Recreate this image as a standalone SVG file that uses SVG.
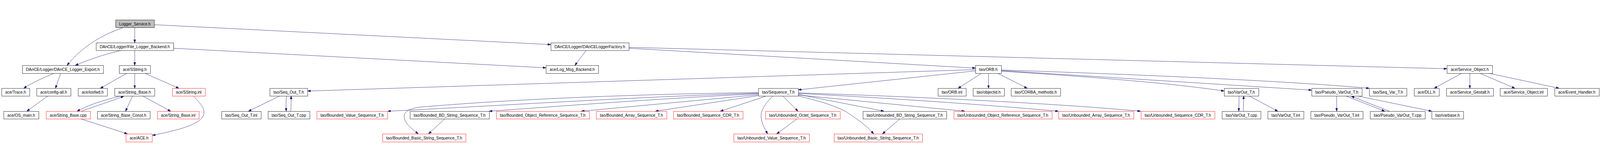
<svg xmlns="http://www.w3.org/2000/svg" width="5249" height="411" viewBox="0 0 5249 411">
<style>
svg{width:100vw;height:100vh;display:block}
rect{stroke-width:1}
.b{fill:#ffffff;stroke:#000000}
.r{fill:#ffffff;stroke:#ff0000}
.g{fill:#bfbfbf;stroke:#000000}
text{font-family:"Liberation Sans",Arial,sans-serif;font-size:15px;fill:#000000;text-anchor:middle}
#edges path{fill:none;stroke:#191970;stroke-width:1;marker-end:url(#a)}
</style>
<defs>
<marker id="a" markerWidth="10" markerHeight="7" refX="10" refY="3.5" orient="auto" markerUnits="userSpaceOnUse">
<path d="M0,0 L10,3.5 L0,7 z" fill="#191970" stroke="#191970" stroke-width="1"/>
</marker>
</defs>
<rect x="0" y="0" width="5249" height="411" fill="#ffffff"/>
<g id="edges">
<path d="M403,33 C330,58 270,95 220,156"/>
<path d="M442,33 L442,82"/>
<path d="M506,23 L1807,88"/>
<path d="M398,107 C340,120 290,138 247,156"/>
<path d="M442,107 L442,156"/>
<path d="M569,100 L1791,164"/>
<path d="M1923,107 C1910,125 1898,140 1886,156"/>
<path d="M2063,100 L3200,165"/>
<path d="M2063,97 L4747,167"/>
<path d="M177,182 C140,198 100,215 78,231"/>
<path d="M199,182 L182,231"/>
<path d="M416,182 L329,231"/>
<path d="M442,182 L442,231"/>
<path d="M475,182 L587,231"/>
<path d="M393,257 C340,270 290,285 253,306"/>
<path d="M267,306 C310,290 360,275 406,257"/>
<path d="M435,256 L412,306"/>
<path d="M468,256 L560,306"/>
<path d="M157,256 L88,306"/>
<path d="M265,331 L418,380"/>
<path d="M636,257 C650,275 672,292 669,313 C666,345 600,365 500,385"/>
<path d="M3200,170 L1009,240"/>
<path d="M3200,174 L2619,236"/>
<path d="M3220,182 L3143,231"/>
<path d="M3243,182 L3243,231"/>
<path d="M3273,182 L3370,231"/>
<path d="M3285,171 C3700,185 4200,205 4492,231"/>
<path d="M3285,173 L4303,237"/>
<path d="M3285,175 C3600,195 3850,215 4016,240"/>
<path d="M2488,255 L2150,306"/>
<path d="M2488,252 L1907,306"/>
<path d="M2488,249 C2200,262 1900,285 1605,306"/>
<path d="M2488,247 C2100,258 1600,290 1272,306"/>
<path d="M2488,245 C2100,250 1700,265 1373,293 C1340,299 1325,308 1326,325 C1327,345 1350,362 1372,380"/>
<path d="M2512,257 L2363,306"/>
<path d="M2619,246 C2900,255 3400,275 3742,306"/>
<path d="M2619,248 C2900,262 3200,282 3472,306"/>
<path d="M2619,251 L2900,306"/>
<path d="M2619,253 L3165,306"/>
<path d="M2619,256 C2700,275 2760,295 2790,317 C2820,338 2845,355 2866,380"/>
<path d="M2952,331 L2895,380"/>
<path d="M2568,256 L2618,306"/>
<path d="M2535,257 C2510,280 2495,305 2497,325 C2499,348 2510,365 2518,380"/>
<path d="M2615,331 L2548,380"/>
<path d="M1459,331 L1406,380"/>
<path d="M918,256 L815,306"/>
<path d="M940,256 C938,275 938,290 939,306"/>
<path d="M954,306 C955,290 955,275 955,256"/>
<path d="M4065,256 L4064,306"/>
<path d="M4079,306 L4080,256"/>
<path d="M4098,256 L4192,306"/>
<path d="M4385,256 L4385,306"/>
<path d="M4415,256 L4543,306"/>
<path d="M4558,306 L4433,257"/>
<path d="M4453,256 L4697,306"/>
<path d="M4795,182 L4705,231"/>
<path d="M4822,182 L4822,231"/>
<path d="M4855,182 L4970,231"/>
<path d="M4885,182 L5115,231"/>
</g>
<g id="n0"><rect class="g" x="379.5" y="7.5" width="127" height="25"/><text x="442.5" y="25" textLength="103" lengthAdjust="spacingAndGlyphs">Logger_Service.h</text></g>
<g id="n1"><rect class="b" x="315.5" y="82.5" width="254" height="25"/><text x="442" y="100" textLength="230" lengthAdjust="spacingAndGlyphs">DAnCE/Logger/File_Logger_Backend.h</text></g>
<g id="n2"><rect class="b" x="1807.5" y="82.5" width="256" height="25"/><text x="1935" y="100" textLength="232" lengthAdjust="spacingAndGlyphs">DAnCE/Logger/DAnCELoggerFactory.h</text></g>
<g id="n3"><rect class="b" x="73.5" y="156.5" width="266" height="26"/><text x="206" y="174.5" textLength="242" lengthAdjust="spacingAndGlyphs">DAnCE/Logger/DAnCE_Logger_Export.h</text></g>
<g id="n4"><rect class="b" x="391.5" y="156.5" width="102" height="26"/><text x="442" y="174.5" textLength="78" lengthAdjust="spacingAndGlyphs">ace/SString.h</text></g>
<g id="n5"><rect class="b" x="1791.5" y="156.5" width="172" height="26"/><text x="1877" y="174.5" textLength="148" lengthAdjust="spacingAndGlyphs">ace/Log_Msg_Backend.h</text></g>
<g id="n6"><rect class="b" x="3200.5" y="156.5" width="85" height="26"/><text x="3242.5" y="174.5" textLength="61" lengthAdjust="spacingAndGlyphs">tao/ORB.h</text></g>
<g id="n7"><rect class="b" x="4747.5" y="156.5" width="149" height="26"/><text x="4821.5" y="174.5" textLength="125" lengthAdjust="spacingAndGlyphs">ace/Service_Object.h</text></g>
<g id="n8"><rect class="b" x="5.5" y="231.5" width="92" height="25"/><text x="51" y="249" textLength="68" lengthAdjust="spacingAndGlyphs">ace/Trace.h</text></g>
<g id="n9"><rect class="b" x="120.5" y="231.5" width="112" height="25"/><text x="176" y="249" textLength="88" lengthAdjust="spacingAndGlyphs">ace/config-all.h</text></g>
<g id="n10"><rect class="b" x="256.5" y="231.5" width="96" height="25"/><text x="304" y="249" textLength="72" lengthAdjust="spacingAndGlyphs">ace/iosfwd.h</text></g>
<g id="n11"><rect class="b" x="376.5" y="231.5" width="131" height="25"/><text x="441.5" y="249" textLength="107" lengthAdjust="spacingAndGlyphs">ace/String_Base.h</text></g>
<g id="n12"><rect class="r" x="565.5" y="231.5" width="108" height="25"/><text x="619" y="249" textLength="84" lengthAdjust="spacingAndGlyphs">ace/SString.inl</text></g>
<g id="n13"><rect class="b" x="885.5" y="231.5" width="124" height="25"/><text x="947" y="249" textLength="100" lengthAdjust="spacingAndGlyphs">tao/Seq_Out_T.h</text></g>
<g id="n14"><rect class="b" x="2488.5" y="231.5" width="131" height="25"/><text x="2553.5" y="249" textLength="107" lengthAdjust="spacingAndGlyphs">tao/Sequence_T.h</text></g>
<g id="n15"><rect class="b" x="3077.5" y="231.5" width="92" height="25"/><text x="3123" y="249" textLength="68" lengthAdjust="spacingAndGlyphs">tao/ORB.inl</text></g>
<g id="n16"><rect class="b" x="3192.5" y="231.5" width="103" height="25"/><text x="3243.5" y="249" textLength="79" lengthAdjust="spacingAndGlyphs">tao/objectid.h</text></g>
<g id="n17"><rect class="b" x="3317.5" y="231.5" width="162" height="25"/><text x="3398" y="249" textLength="138" lengthAdjust="spacingAndGlyphs">tao/CORBA_methods.h</text></g>
<g id="n18"><rect class="b" x="4016.5" y="231.5" width="113" height="25"/><text x="4072.5" y="249" textLength="89" lengthAdjust="spacingAndGlyphs">tao/VarOut_T.h</text></g>
<g id="n19"><rect class="b" x="4303.5" y="231.5" width="165" height="25"/><text x="4385.5" y="249" textLength="141" lengthAdjust="spacingAndGlyphs">tao/Pseudo_VarOut_T.h</text></g>
<g id="n20"><rect class="b" x="4492.5" y="231.5" width="123" height="25"/><text x="4553.5" y="249" textLength="99" lengthAdjust="spacingAndGlyphs">tao/Seq_Var_T.h</text></g>
<g id="n21"><rect class="b" x="4639.5" y="231.5" width="82" height="25"/><text x="4680" y="249" textLength="58" lengthAdjust="spacingAndGlyphs">ace/DLL.h</text></g>
<g id="n22"><rect class="b" x="4745.5" y="231.5" width="154" height="25"/><text x="4822" y="249" textLength="130" lengthAdjust="spacingAndGlyphs">ace/Service_Gestalt.h</text></g>
<g id="n23"><rect class="b" x="4921.5" y="231.5" width="155" height="25"/><text x="4998.5" y="249" textLength="131" lengthAdjust="spacingAndGlyphs">ace/Service_Object.inl</text></g>
<g id="n24"><rect class="b" x="5100.5" y="231.5" width="146" height="25"/><text x="5173" y="249" textLength="122" lengthAdjust="spacingAndGlyphs">ace/Event_Handler.h</text></g>
<g id="n25"><rect class="b" x="12.5" y="306.5" width="115" height="25"/><text x="69.5" y="324" textLength="91" lengthAdjust="spacingAndGlyphs">ace/OS_main.h</text></g>
<g id="n26"><rect class="r" x="151.5" y="306.5" width="145" height="25"/><text x="223.5" y="324" textLength="121" lengthAdjust="spacingAndGlyphs">ace/String_Base.cpp</text></g>
<g id="n27"><rect class="b" x="319.5" y="306.5" width="173" height="25"/><text x="405.5" y="324" textLength="149" lengthAdjust="spacingAndGlyphs">ace/String_Base_Const.h</text></g>
<g id="n28"><rect class="r" x="516.5" y="306.5" width="137" height="25"/><text x="584.5" y="324" textLength="113" lengthAdjust="spacingAndGlyphs">ace/String_Base.inl</text></g>
<g id="n29"><rect class="b" x="727.5" y="306.5" width="129" height="25"/><text x="791.5" y="324" textLength="105" lengthAdjust="spacingAndGlyphs">tao/Seq_Out_T.inl</text></g>
<g id="n30"><rect class="b" x="879.5" y="306.5" width="137" height="25"/><text x="947.5" y="324" textLength="113" lengthAdjust="spacingAndGlyphs">tao/Seq_Out_T.cpp</text></g>
<g id="n31"><rect class="r" x="1039.5" y="306.5" width="232" height="25"/><text x="1155" y="324" textLength="208" lengthAdjust="spacingAndGlyphs">tao/Bounded_Value_Sequence_T.h</text></g>
<g id="n32"><rect class="b" x="1345.5" y="306.5" width="260" height="25"/><text x="1475" y="324" textLength="236" lengthAdjust="spacingAndGlyphs">tao/Bounded_BD_String_Sequence_T.h</text></g>
<g id="n33"><rect class="r" x="1628.5" y="306.5" width="305" height="25"/><text x="1780.5" y="324" textLength="281" lengthAdjust="spacingAndGlyphs">tao/Bounded_Object_Reference_Sequence_T.h</text></g>
<g id="n34"><rect class="r" x="1956.5" y="306.5" width="231" height="25"/><text x="2071.5" y="324" textLength="207" lengthAdjust="spacingAndGlyphs">tao/Bounded_Array_Sequence_T.h</text></g>
<g id="n35"><rect class="r" x="2209.5" y="306.5" width="228" height="25"/><text x="2323" y="324" textLength="204" lengthAdjust="spacingAndGlyphs">tao/Bounded_Sequence_CDR_T.h</text></g>
<g id="n36"><rect class="r" x="2511.5" y="306.5" width="245" height="25"/><text x="2633.5" y="324" textLength="221" lengthAdjust="spacingAndGlyphs">tao/Unbounded_Octet_Sequence_T.h</text></g>
<g id="n37"><rect class="b" x="2831.5" y="306.5" width="274" height="25"/><text x="2968" y="324" textLength="250" lengthAdjust="spacingAndGlyphs">tao/Unbounded_BD_String_Sequence_T.h</text></g>
<g id="n38"><rect class="r" x="3129.5" y="306.5" width="322" height="25"/><text x="3290" y="324" textLength="298" lengthAdjust="spacingAndGlyphs">tao/Unbounded_Object_Reference_Sequence_T.h</text></g>
<g id="n39"><rect class="r" x="3473.5" y="306.5" width="246" height="25"/><text x="3596" y="324" textLength="222" lengthAdjust="spacingAndGlyphs">tao/Unbounded_Array_Sequence_T.h</text></g>
<g id="n40"><rect class="r" x="3743.5" y="306.5" width="242" height="25"/><text x="3864" y="324" textLength="218" lengthAdjust="spacingAndGlyphs">tao/Unbounded_Sequence_CDR_T.h</text></g>
<g id="n41"><rect class="b" x="4009.5" y="306.5" width="127" height="25"/><text x="4072.5" y="324" textLength="103" lengthAdjust="spacingAndGlyphs">tao/VarOut_T.cpp</text></g>
<g id="n42"><rect class="b" x="4159.5" y="306.5" width="118" height="25"/><text x="4218" y="324" textLength="94" lengthAdjust="spacingAndGlyphs">tao/VarOut_T.inl</text></g>
<g id="n43"><rect class="b" x="4300.5" y="306.5" width="171" height="25"/><text x="4385.5" y="324" textLength="147" lengthAdjust="spacingAndGlyphs">tao/Pseudo_VarOut_T.inl</text></g>
<g id="n44"><rect class="b" x="4495.5" y="306.5" width="180" height="25"/><text x="4585" y="324" textLength="156" lengthAdjust="spacingAndGlyphs">tao/Pseudo_VarOut_T.cpp</text></g>
<g id="n45"><rect class="b" x="4697.5" y="306.5" width="104" height="25"/><text x="4749" y="324" textLength="80" lengthAdjust="spacingAndGlyphs">tao/varbase.h</text></g>
<g id="n46"><rect class="r" x="413.5" y="380.5" width="86" height="26"/><text x="456" y="398.5" textLength="62" lengthAdjust="spacingAndGlyphs">ace/ACE.h</text></g>
<g id="n47"><rect class="r" x="1255.5" y="380.5" width="273" height="26"/><text x="1391.5" y="398.5" textLength="249" lengthAdjust="spacingAndGlyphs">tao/Bounded_Basic_String_Sequence_T.h</text></g>
<g id="n48"><rect class="r" x="2407.5" y="380.5" width="248" height="26"/><text x="2531" y="398.5" textLength="224" lengthAdjust="spacingAndGlyphs">tao/Unbounded_Value_Sequence_T.h</text></g>
<g id="n49"><rect class="r" x="2736.5" y="380.5" width="290" height="26"/><text x="2881" y="398.5" textLength="266" lengthAdjust="spacingAndGlyphs">tao/Unbounded_Basic_String_Sequence_T.h</text></g>
</svg>
